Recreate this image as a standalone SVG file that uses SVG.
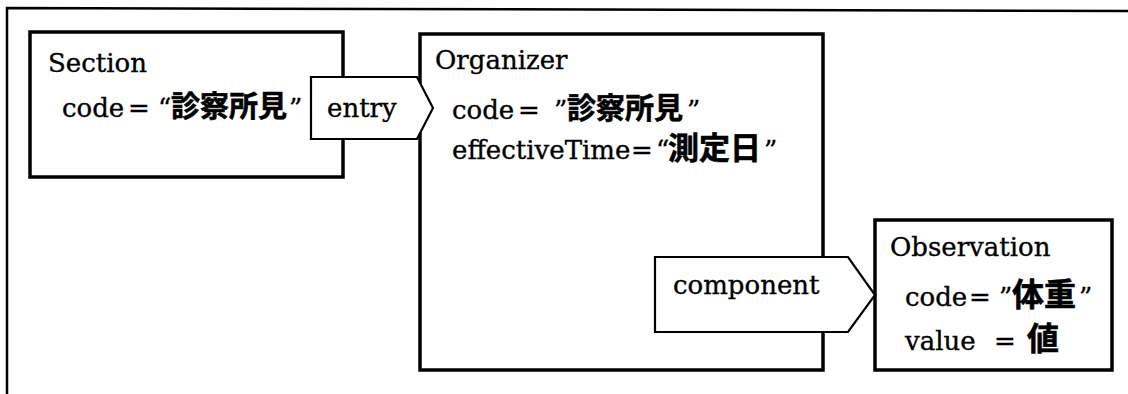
<svg xmlns="http://www.w3.org/2000/svg" width="1128" height="394" viewBox="0 0 1128 394">
  <style>
    .box { fill: #fff; stroke: #000; stroke-width: 3.5; }
    .arrow { fill: #fff; stroke: #000; stroke-width: 2.2; stroke-linejoin: miter; }
    .frame { fill: none; stroke: #000; stroke-width: 2.5; }
    text { font-family: "DejaVu Serif", "Liberation Serif", serif; font-size: 26px; fill: #000; stroke: #000; stroke-width: 0.35; }
    .jp { font-family: "Noto Sans CJK JP", sans-serif; font-weight: bold; font-size: 28px; stroke-width: 0.6; }
  </style>
  <path class="frame" d="M7,394 L7,8 L1128,11"/>

  <g id="section">
    <rect class="box" x="30" y="32" width="313" height="145"/>
    <text x="48" y="72">Section</text>
    <text x="62" y="117">code<tspan x="128">=</tspan><tspan x="158">“</tspan><tspan class="jp" x="171" style="font-size:29px">診察所見</tspan><tspan x="289">”</tspan></text>
  </g>

  <g id="organizer">
    <rect class="box" x="420" y="34" width="403" height="336"/>
    <text x="435" y="69">Organizer</text>
    <text x="452" y="119">code<tspan x="518">=</tspan><tspan x="554">”</tspan><tspan class="jp" x="567" style="font-size:29px">診察所見</tspan><tspan x="687">”</tspan></text>
    <text x="452" y="159">effectiveTime<tspan x="631">=</tspan><tspan x="656">“</tspan><tspan class="jp" x="668" style="font-size:31px">測定日</tspan><tspan x="764">”</tspan></text>
  </g>

  <g id="observation">
    <rect class="box" x="875" y="220" width="237" height="150"/>
    <text x="890" y="256">Observation</text>
    <text x="905" y="306">code<tspan x="969">=</tspan><tspan x="999">”</tspan><tspan class="jp" x="1012" style="font-size:32px">体重</tspan><tspan x="1079">”</tspan></text>
    <text x="905" y="350">value<tspan x="994">=</tspan><tspan class="jp" x="1027" style="font-size:32px">値</tspan></text>
  </g>

  <g id="connectors">
    <g id="entry">
      <polygon class="arrow" points="311,77 417,77 433,108 417,139 311,139"/>
      <text x="327" y="117">entry</text>
    </g>
    <g id="component">
      <polygon class="arrow" points="655,257 848,257 875,295 848,332 655,332"/>
      <text x="673" y="294">component</text>
    </g>
  </g>
</svg>
